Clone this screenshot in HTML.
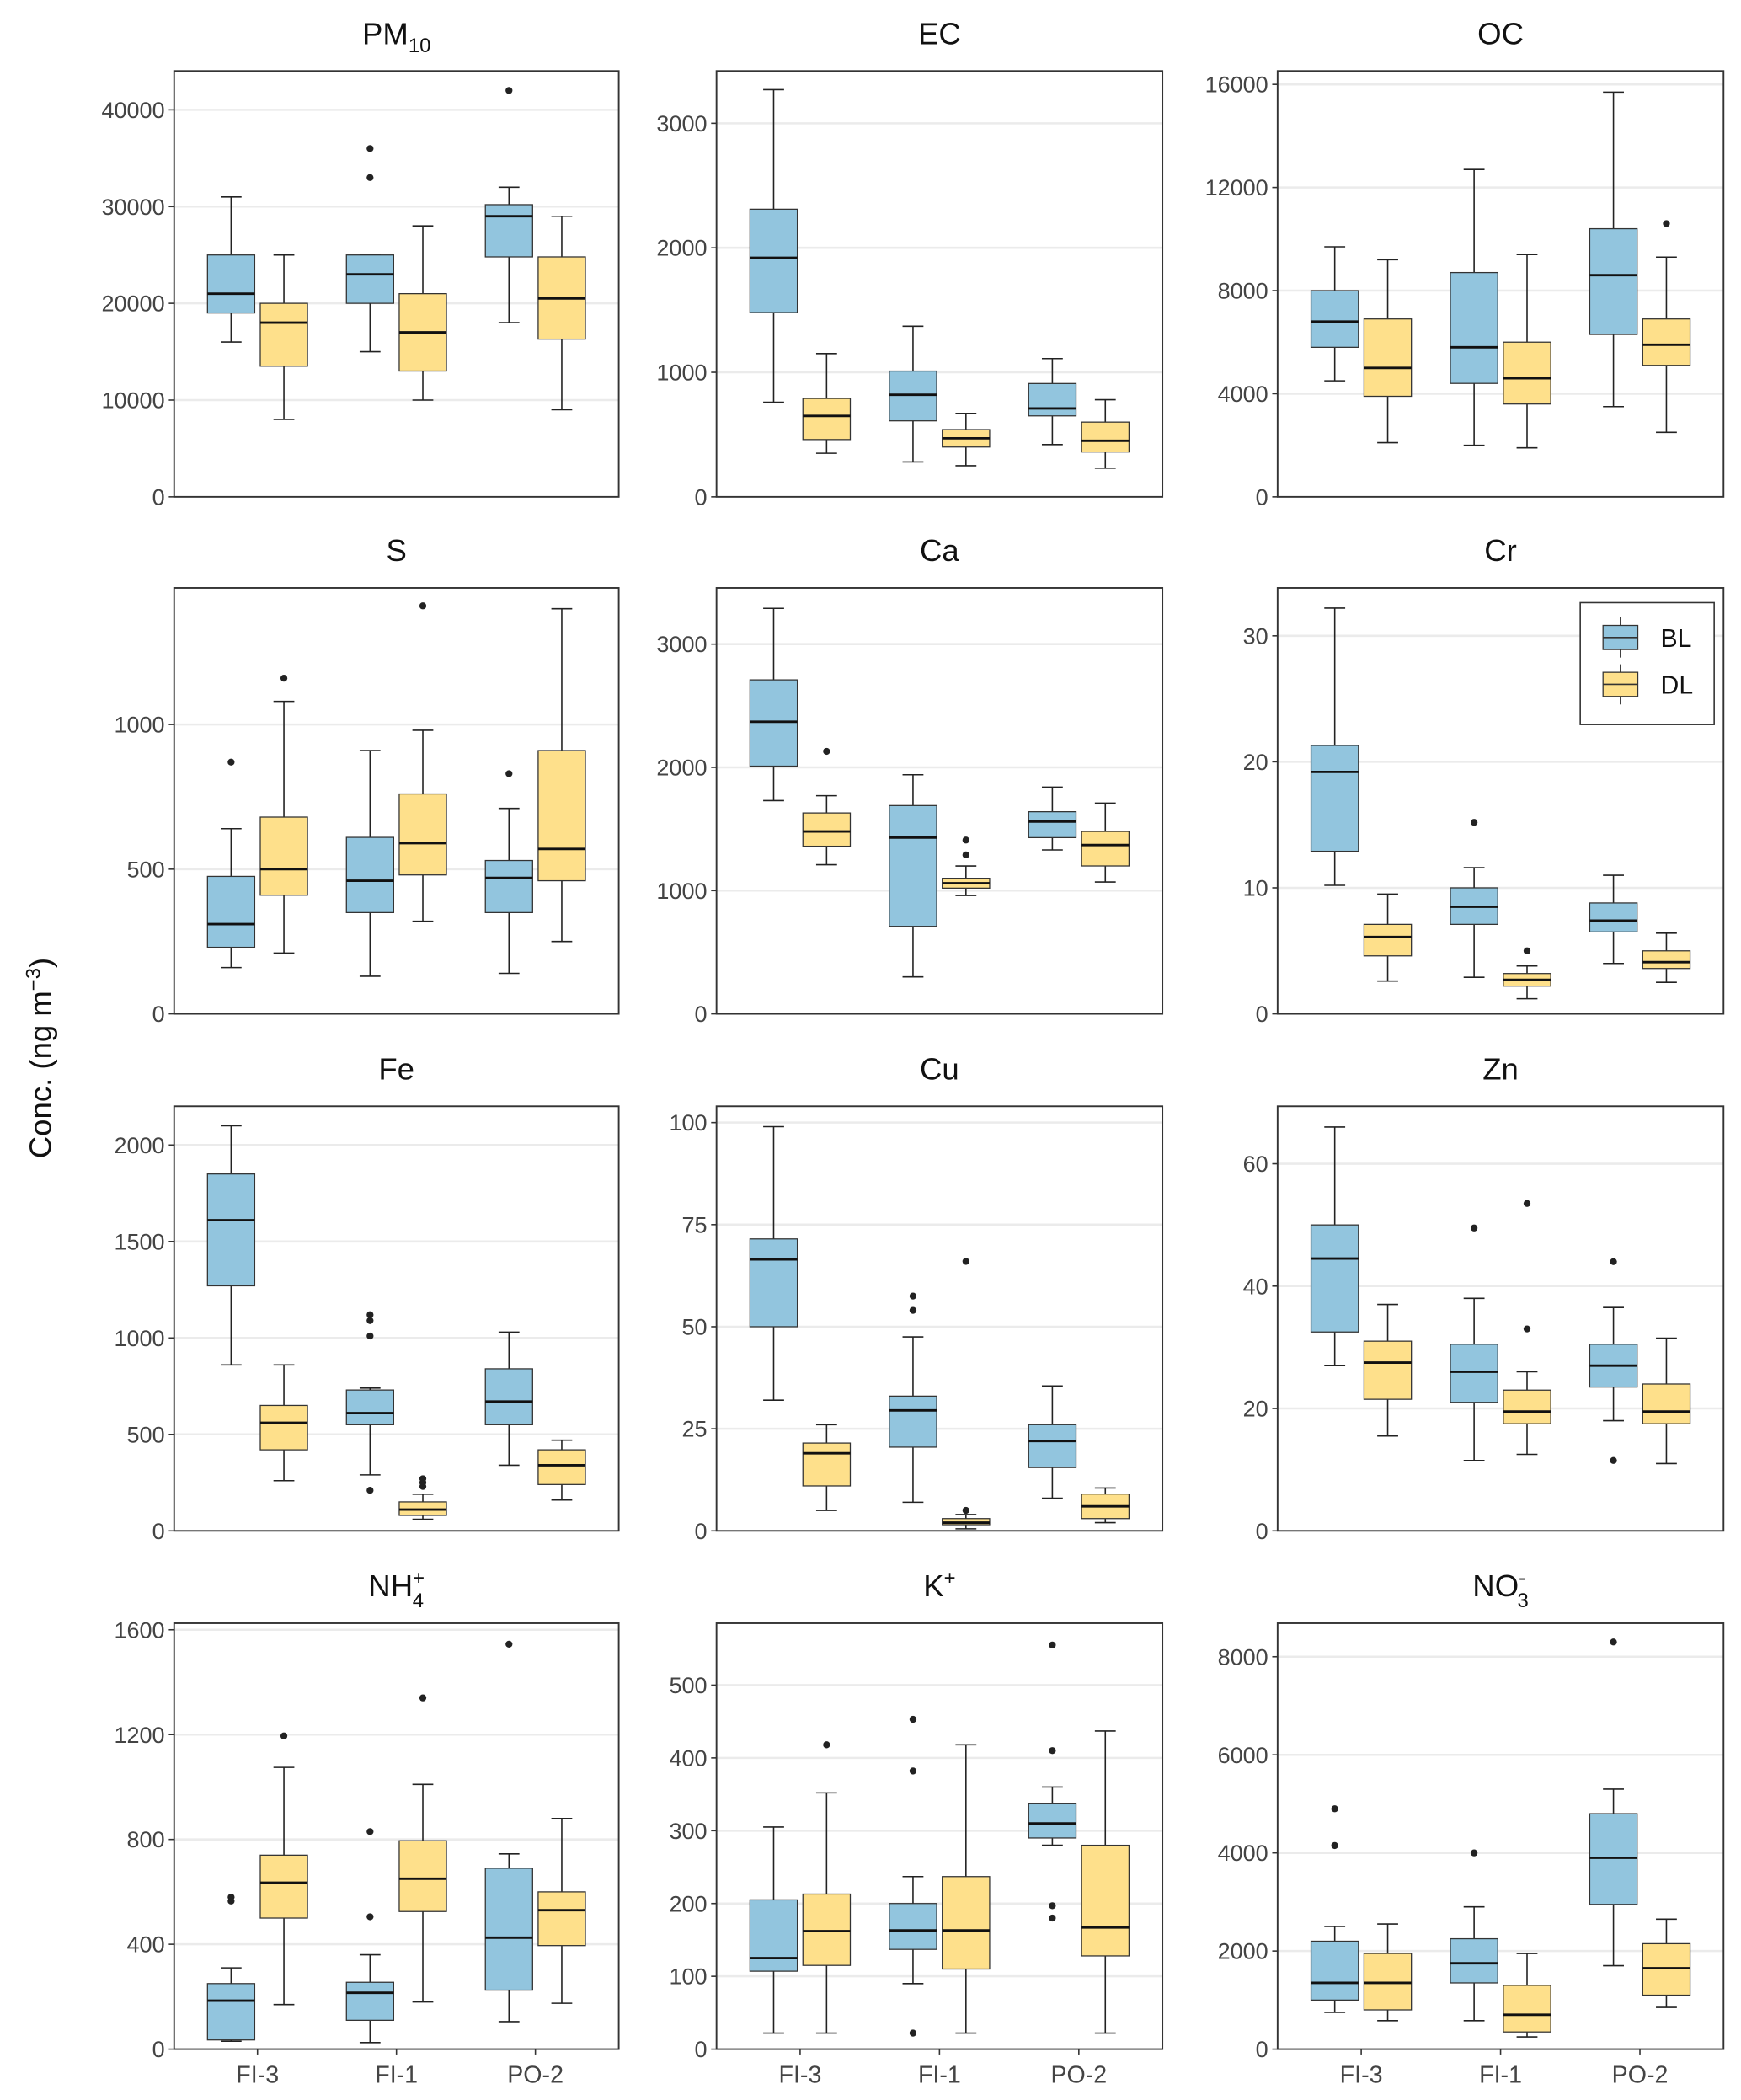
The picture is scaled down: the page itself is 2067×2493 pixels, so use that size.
<!DOCTYPE html>
<html><head><meta charset="utf-8"><style>
html,body{margin:0;padding:0;background:#fff}
svg{display:block}
text{font-family:"Liberation Sans",Arial,sans-serif}
</style></head><body>
<svg id="chart" width="2067" height="2493" viewBox="0 0 1300 1568" xmlns="http://www.w3.org/2000/svg">
<text x="0" y="0" transform="translate(38,790) rotate(-90)" text-anchor="middle" font-size="23" fill="#111">Conc. (ng m<tspan baseline-shift="super" font-size="15">−3</tspan>)</text>
</svg>
<script>
const groups = ["FI-3","FI-1","PO-2"];
const series = ["BL","DL"];
const panelNames = ["PM10","EC","OC","S","Ca","Cr","Fe","Cu","Zn","NH4","K","NO3"];
const yMax = [44015,3420,16520,1472,3456,33.8,2201,104,69.4,1625,585,8683];
const ticks = [[0,10000,20000,30000,40000],[0,1000,2000,3000],[0,4000,8000,12000,16000],[0,500,1000],[0,1000,2000,3000],[0,10,20,30],[0,500,1000,1500,2000],[0,25,50,75,100],[0,20,40,60],[0,400,800,1200,1600],[0,100,200,300,400,500],[0,2000,4000,6000,8000]];
// stats: [lo,q1,med,q3,hi] per group, BL then DL
const stats = [
 [[16000,19000,21000,25000,31000],[8000,13500,18000,20000,25000],[15000,20000,23000,25000,25000],[10000,13000,17000,21000,28000],[18000,24800,29000,30200,32000],[9000,16300,20500,24800,29000]],
 [[760,1480,1920,2310,3270],[350,460,650,790,1150],[280,610,820,1010,1370],[250,400,470,540,670],[420,650,710,910,1110],[230,360,450,600,780]],
 [[4500,5800,6800,8000,9700],[2100,3900,5000,6900,9200],[2000,4400,5800,8700,12700],[1900,3600,4600,6000,9400],[3500,6300,8600,10400,15700],[2500,5100,5900,6900,9300]],
 [[160,230,310,475,640],[210,410,500,680,1080],[130,350,460,610,910],[320,480,590,760,980],[140,350,470,530,710],[250,460,570,910,1400]],
 [[1730,2010,2370,2710,3290],[1210,1360,1480,1630,1770],[300,710,1430,1690,1940],[960,1020,1060,1100,1200],[1330,1430,1560,1640,1840],[1070,1200,1370,1480,1710]],
 [[10.2,12.9,19.2,21.3,32.2],[2.6,4.6,6.1,7.1,9.5],[2.9,7.1,8.5,10.0,11.6],[1.2,2.2,2.7,3.2,3.8],[4.0,6.5,7.4,8.8,11.0],[2.5,3.6,4.1,5.0,6.4]],
 [[860,1270,1610,1850,2100],[260,420,560,650,860],[290,550,610,730,740],[60,80,110,150,190],[340,550,670,840,1030],[160,240,340,420,470]],
 [[32,50,66.5,71.5,99],[5,11,19,21.5,26],[7,20.5,29.5,33,47.5],[0.5,1.5,2,3,4],[8,15.5,22,26,35.5],[2,3,6,9,10.5]],
 [[27,32.5,44.5,50,66],[15.5,21.5,27.5,31,37],[11.5,21,26,30.5,38],[12.5,17.5,19.5,23,26],[18,23.5,27,30.5,36.5],[11,17.5,19.5,24,31.5]],
 [[30,35,185,250,310],[170,500,635,740,1075],[25,110,215,255,360],[180,525,650,795,1010],[105,225,425,690,745],[175,395,530,600,880]],
 [[22,107,125,205,305],[22,115,162,213,352],[90,137,163,200,237],[22,110,163,237,418],[280,290,310,337,360],[22,128,167,280,437]],
 [[750,1000,1350,2200,2500],[580,800,1350,1950,2550],[580,1350,1750,2250,2900],[250,350,700,1300,1950],[1700,2950,3900,4800,5300],[850,1100,1650,2150,2650]]
];
const outliers = [
 [[],[],[33000,36000],[],[42000],[]],
 [[],[],[],[],[],[]],
 [[],[],[],[],[],[10600]],
 [[870],[1160],[],[1410],[830],[]],
 [[],[2130],[],[1290,1410],[],[]],
 [[],[],[15.2],[5.0],[],[]],
 [[],[],[210,1010,1090,1120],[230,250,270],[],[]],
 [[],[],[54,57.5],[5,66],[],[]],
 [[],[],[49.5],[33,53.5],[11.5,44],[]],
 [[565,580],[1195],[505,830],[1340],[1545],[]],
 [[],[418],[22,382,453],[],[555,410,197,180],[]],
 [[4150,4900],[],[4000],[],[8300],[]]
];
const NS="http://www.w3.org/2000/svg";
const svg=document.getElementById('chart');
const colL=[130,535,954], colR=[462,868,1287];
const rowT=[53,439,826,1212], rowB=[371,757,1143,1530];
const fills=["#92c5de","#fee08b"];
function mk(tag,attrs,parent){const e=document.createElementNS(NS,tag);for(const k in attrs)e.setAttribute(k,attrs[k]);(parent||svg).appendChild(e);return e;}
const titleHTML=["PM<tspan font-size='15' dy='6'>10</tspan>","EC","OC","S","Ca","Cr","Fe","Cu","Zn","NH<tspan font-size='15' dy='-9'>+</tspan><tspan font-size='15' dx='-9' dy='17'>4</tspan>","K<tspan font-size='15' dy='-9'>+</tspan>","NO<tspan font-size='15' dy='-9'>-</tspan><tspan font-size='15' dx='-6' dy='17'>3</tspan>"];
panelNames.forEach((pn,p)=>{
  const c=p%3,r=Math.floor(p/3);
  const L=colL[c],R=colR[c],T=rowT[r],B=rowB[r];
  const g=mk('g',{});
  
  
  const y=v=>B-(v/yMax[p])*(B-T);
  const unit=(R-L)/3.2;
  const x=i=>L+(i+0.6)*unit;
  ticks[p].forEach(t=>{
    if(t>0){const gl=mk('line',{x1:L,x2:R,y1:y(t),y2:y(t),stroke:'#ebebeb','stroke-width':1.6},g);
      }
    mk('line',{x1:L-4,x2:L,y1:y(t),y2:y(t),stroke:'#333','stroke-width':1},g);
    const tl=mk('text',{x:L-7,y:y(t)+6,'text-anchor':'end','font-size':17,fill:'#444'},g);
    tl.textContent=t;
    
  });
  const tt=mk('text',{x:(L+R)/2,y:T-20,'text-anchor':'middle','font-size':23,fill:'#111'},g);
  tt.innerHTML=titleHTML[p];
  
  groups.forEach((gn,gi)=>{
    series.forEach((sn,si)=>{
      const k=gi*2+si, s=stats[p][k];
      const cx=x(gi)+(si===0?-0.19:0.19)*unit, hw=0.17*unit, cap=0.075*unit;
      const bg=mk('g',{},g);
      
      
      mk('line',{x1:cx,x2:cx,y1:y(s[0]),y2:y(s[1]),stroke:'#222','stroke-width':1},bg);
      mk('line',{x1:cx,x2:cx,y1:y(s[3]),y2:y(s[4]),stroke:'#222','stroke-width':1},bg);
      mk('line',{x1:cx-cap,x2:cx+cap,y1:y(s[0]),y2:y(s[0]),stroke:'#222','stroke-width':1},bg);
      mk('line',{x1:cx-cap,x2:cx+cap,y1:y(s[4]),y2:y(s[4]),stroke:'#222','stroke-width':1},bg);
      mk('rect',{x:cx-hw,y:y(s[3]),width:2*hw,height:Math.max(0.5,y(s[1])-y(s[3])),fill:fills[si],stroke:'#333','stroke-width':0.8},bg);
      mk('line',{x1:cx-hw,x2:cx+hw,y1:y(s[2]),y2:y(s[2]),stroke:'#111','stroke-width':1.8},bg);
      outliers[p][k].forEach(o=>{
        const d=mk('circle',{cx:cx,cy:y(o),r:2.6,fill:'#222'},bg);
        
      });
    });
    if(r===3){
      const xl=mk('text',{x:x(gi),y:B+25,'text-anchor':'middle','font-size':18,fill:'#444'},g);
      xl.textContent=gn;
      
      mk('line',{x1:x(gi),x2:x(gi),y1:B,y2:B+4,stroke:'#333','stroke-width':1},g);
    }
  });
  mk('rect',{x:L,y:T,width:R-L,height:B-T,fill:'none',stroke:'#333','stroke-width':1.2},g);
});
// legend
const lg=mk('g',{});


mk('rect',{x:1180,y:450,width:100,height:91,fill:'#fff',stroke:'#333','stroke-width':1},lg);
series.forEach((sn,si)=>{
  const cy=476+si*35;
  const e=mk('g',{},lg);
  
  
  mk('line',{x1:1210,x2:1210,y1:cy-15,y2:cy+15,stroke:'#333','stroke-width':1},e);
  mk('rect',{x:1197,y:cy-9,width:26,height:18,fill:fills[si],stroke:'#333','stroke-width':0.8},e);
  mk('line',{x1:1197,x2:1223,y1:cy,y2:cy,stroke:'#333','stroke-width':1},e);
  const t=mk('text',{x:1240,y:cy+7,'font-size':19,fill:'#111'},e);
  t.textContent=sn;
});
</script>
</body></html>
